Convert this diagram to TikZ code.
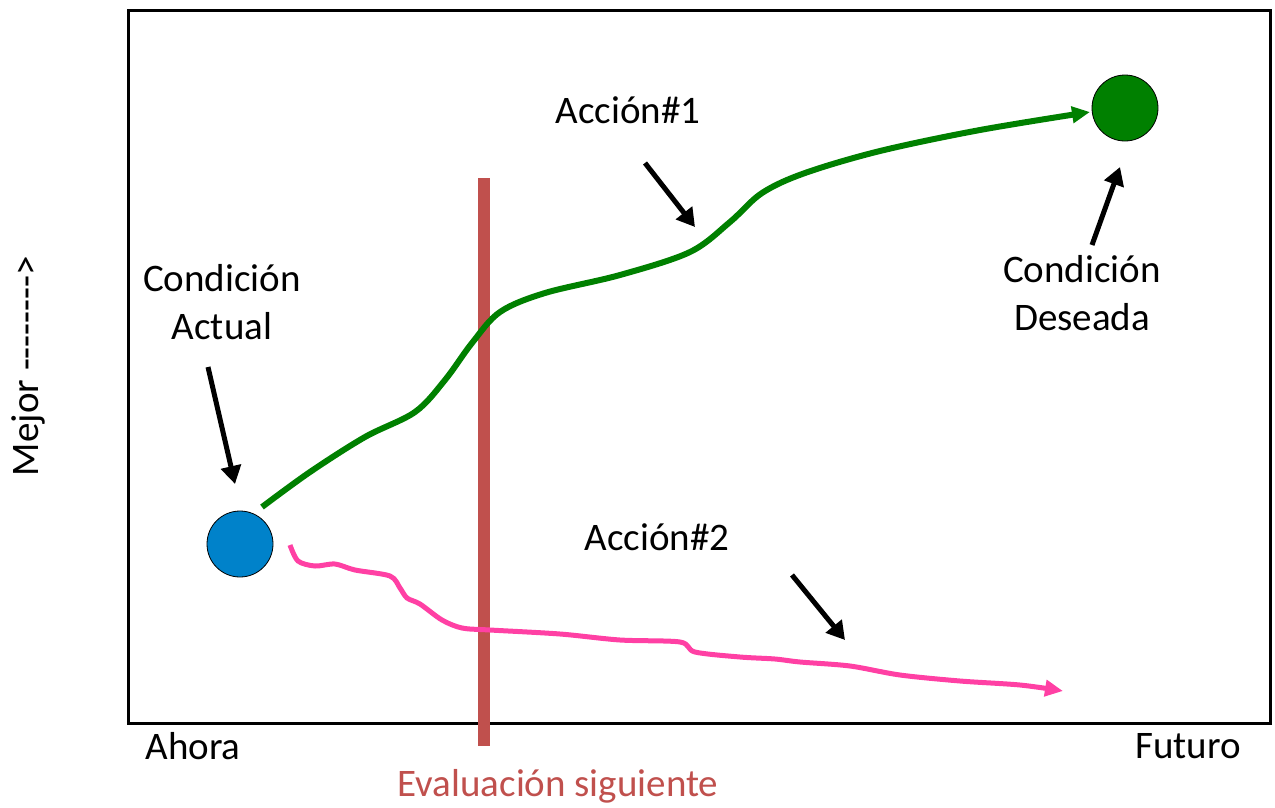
\documentclass[tikz,border=0pt]{standalone}
\usepackage{fontspec}
\setmainfont{Carlito}
\usetikzlibrary{arrows.meta}
\definecolor{cblue}{RGB}{0,130,202}
\definecolor{cgreen}{RGB}{0,128,0}
\definecolor{cred}{RGB}{192,80,77}
\definecolor{cpink}{RGB}{255,64,164}
\newcommand\hy{-\kern0pt}
\begin{document}
\begin{tikzpicture}[x=1pt,y=-1pt,
  lbl/.style={font=\fontsize{39}{48}\selectfont, align=center, inner sep=0pt},
  blk/.style={line width=5pt, -{Triangle[length=18pt,width=20pt]}},
  dot/.style={circle, draw=black, line width=0.8pt, minimum size=66pt, inner sep=0pt}]
\useasboundingbox (0,0) rectangle (1275,807);
\draw[line width=3pt] (128,10) rectangle (1270,723);
% circles
\node[dot, fill=cblue] (bc) at (240,544) {};
\node[dot, fill=cgreen] (gc) at (1125,108) {};
% red line
\coordinate (rt) at (484,178);
\coordinate (rb) at (484,746);
\draw[cred, line width=12pt] (rt) -- (rb);
% green curve
\draw[cgreen, line width=6pt, -{Triangle[length=18pt,width=16pt]}]
  plot[smooth, tension=0.55] coordinates {(262,507) (310,472) (365,437) (415,412) (445,380) (472,343) (500,312) (545,293) (620,275) (690,252) (730,222) (762,193) (805,173) (880,151) (980,130) (1090,112)};
% pink curve
\draw[cpink, line width=5pt, -{Triangle[length=18pt,width=16pt]}]
  plot[smooth, tension=0.5] coordinates {(290,545) (298,561) (315,566) (335,564) (355,570) (390,576) (400,588) (407,598) (420,604) (442,620) (462,628) (490,630) (560,634) (620,640) (680,642) (695,652) (740,657) (775,659) (800,662) (850,666) (900,675) (960,681) (1020,685) (1063,691)};
% labels
\node[lbl] (ca) at (222,302) {Condición\\Actual};
\node[lbl] (cd) at (1082,293) {Condición\\Deseada};
\node[lbl] (a1) at (628,110) {Acción\#1};
\node[lbl] (a2) at (657,537) {Acción\#2};
\node[lbl] (ah) at (193,746) {Ahora};
\node[lbl] (fu) at (1188,746) {Futuro};
\node[lbl, text=cred] (ev) at (558,786) {Evaluación siguiente};
\node[lbl, rotate=90] (me) at (28,366) {Mejor \hy\hy\hy\hy\hy\hy\hy\hy>};
% pointers
\coordinate (cas) at (208,367);
\coordinate (cae) at (235,484);
\coordinate (cds) at (1092,245);
\coordinate (cde) at (1120,167);
\coordinate (a1s) at (645,163);
\coordinate (p1) at (695,227);
\coordinate (a2s) at (792,575);
\coordinate (p2) at (845,640);
\draw[blk] (cas) -- (cae);
\draw[blk] (cds) -- (cde);
\draw[blk] (a1s) -- (p1);
\draw[blk] (a2s) -- (p2);
\end{tikzpicture}
\end{document}
